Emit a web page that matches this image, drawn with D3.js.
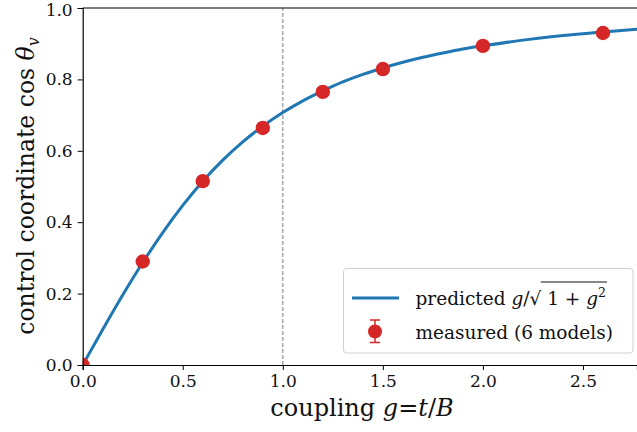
<!DOCTYPE html>
<html lang="en">
<head>
<meta charset="utf-8">
<title>cos theta_v vs coupling</title>
<script src="https://d3js.org/d3.v7.min.js"></script>
<style>
  body { margin: 0; background: #fff; }
</style>
</head>
<body>
<script>
  var w = 637, h = 432;
  var margin = {top: 8, right: 0, bottom: 67, left: 82.7};
  var serif = "'DejaVu Serif', 'Liberation Serif', serif";

  // measured points
  var gMeasured = [0, 0.3, 0.6, 0.9, 1.2, 1.5, 2.0, 2.6];
  var cosMeasured = [0, 0.290, 0.515, 0.664, 0.765, 0.829, 0.894, 0.930];

  // predicted curve
  var gCurve = [0, 0.1, 0.2, 0.3, 0.4, 0.5, 0.6, 0.7, 0.8, 0.9, 1.0, 1.1, 1.2, 1.3, 1.4,
                1.5, 1.6, 1.7, 1.8, 1.9, 2.0, 2.2, 2.4, 2.6, 2.8];
  var cosCurve = [0, 0.0995, 0.196, 0.287, 0.371, 0.447, 0.515, 0.574, 0.625, 0.669, 0.707,
                  0.740, 0.768, 0.793, 0.814, 0.832, 0.848, 0.862, 0.874, 0.885, 0.894,
                  0.910, 0.923, 0.933, 0.942];

  var xTicks = [0, 0.5, 1.0, 1.5, 2.0, 2.5];
  var yTicks = [0, 0.2, 0.4, 0.6, 0.8, 1.0];
  var vline = 1.0;

  var blue = "#1f77b4", red = "#d62728";

  var x = d3.scaleLinear().domain([0, 2.77]).range([margin.left, w - margin.right]);
  var y = d3.scaleLinear().domain([0, 1]).range([h - margin.bottom, margin.top]);

  var svg = d3.select("body").append("svg")
    .attr("width", w).attr("height", h)
    .style("font-family", serif);

  svg.append("defs").append("clipPath").attr("id", "clip")
    .append("rect")
    .attr("x", x(0)).attr("y", y(1))
    .attr("width", x(2.77) - x(0)).attr("height", y(0) - y(1));

  // dashed reference line
  svg.append("line")
    .attr("x1", x(vline)).attr("x2", x(vline))
    .attr("y1", y(0)).attr("y2", y(1))
    .attr("stroke", "#888").attr("stroke-width", 1.1)
    .attr("stroke-dasharray", "4,2");

  // predicted curve
  var line = d3.line()
    .x(function (d, i) { return x(gCurve[i]); })
    .y(function (d) { return y(d); })
    .curve(d3.curveMonotoneX);

  svg.append("path")
    .datum(cosCurve)
    .attr("clip-path", "url(#clip)")
    .attr("d", line)
    .attr("fill", "none")
    .attr("stroke", blue)
    .attr("stroke-width", 3);

  // measured markers
  svg.append("g")
    .attr("clip-path", "url(#clip)")
    .selectAll("circle")
    .data(cosMeasured)
    .enter().append("circle")
    .attr("cx", function (d, i) { return x(gMeasured[i]); })
    .attr("cy", function (d) { return y(d); })
    .attr("r", 7.2)
    .attr("fill", red);

  // axes
  var xAxis = d3.axisBottom(x).tickValues(xTicks).tickSize(5).tickPadding(5)
    .tickFormat(d3.format(".1f"));
  var yAxis = d3.axisLeft(y).tickValues(yTicks).tickSize(5).tickPadding(5)
    .tickFormat(d3.format(".1f"));

  var gx = svg.append("g").attr("transform", "translate(0," + y(0) + ")").call(xAxis);
  var gy = svg.append("g").attr("transform", "translate(" + x(0) + ",0)").call(yAxis);
  [gx, gy].forEach(function (g) {
    g.attr("font-family", null).attr("font-size", null);
    g.select(".domain").attr("stroke", "#000").attr("stroke-width", 1.2);
    g.selectAll(".tick line").attr("stroke", "#000").attr("stroke-width", 1);
    g.selectAll(".tick text").style("font-family", serif).style("font-size", "17px")
      .attr("fill", "#111");
  });
  // keep the top label inside the page
  gy.selectAll(".tick text").filter(function (d) { return d === 1; }).attr("dy", "0.42em");

  // top spine
  svg.append("line")
    .attr("x1", x(0)).attr("x2", w)
    .attr("y1", y(1)).attr("y2", y(1))
    .attr("stroke", "#000").attr("stroke-width", 1.2);

  // x label
  var xl = svg.append("text")
    .attr("x", 362).attr("y", 416)
    .attr("text-anchor", "middle")
    .style("font-size", "24px").attr("fill", "#111");
  xl.append("tspan").text("coupling ");
  xl.append("tspan").attr("font-style", "italic").text("g");
  xl.append("tspan").text("=");
  xl.append("tspan").attr("font-style", "italic").text("t");
  xl.append("tspan").text("/");
  xl.append("tspan").attr("font-style", "italic").text("B");

  // y label
  var yl = svg.append("text")
    .attr("transform", "translate(34," + 186 + ") rotate(-90)")
    .attr("text-anchor", "middle")
    .style("font-size", "23.5px").attr("fill", "#111");
  yl.append("tspan").text("control coordinate cos ");
  yl.append("tspan").attr("font-style", "italic").text("θ");
  yl.append("tspan").attr("font-style", "italic").style("font-size", "16px")
    .attr("dy", 5).text("v");

  // legend
  var lg = svg.append("g");
  lg.append("rect")
    .attr("x", 343.5).attr("y", 268.5)
    .attr("width", 289.5).attr("height", 84.5)
    .attr("rx", 3).attr("ry", 3)
    .attr("fill", "#fff").attr("fill-opacity", 0.8)
    .attr("stroke", "#d0d0d0").attr("stroke-width", 1);

  lg.append("line")
    .attr("x1", 352).attr("x2", 399).attr("y1", 298).attr("y2", 298)
    .attr("stroke", blue).attr("stroke-width", 3);

  lg.append("line")
    .attr("x1", 375).attr("x2", 375).attr("y1", 320).attr("y2", 342.5)
    .attr("stroke", red).attr("stroke-width", 1.5);
  [320, 342.5].forEach(function (yy) {
    lg.append("line")
      .attr("x1", 370).attr("x2", 380).attr("y1", yy).attr("y2", yy)
      .attr("stroke", red).attr("stroke-width", 1.5);
  });
  lg.append("circle").attr("cx", 375).attr("cy", 331.5).attr("r", 7).attr("fill", red);

  var t1 = lg.append("text").attr("x", 415.5).attr("y", 305)
    .style("font-size", "18.5px").attr("fill", "#111");
  t1.append("tspan").text("predicted ");
  t1.append("tspan").attr("font-style", "italic").text("g");
  t1.append("tspan").text("/√");
  t1.append("tspan").text(" 1 + ");
  t1.append("tspan").attr("font-style", "italic").text("g");
  t1.append("tspan").style("font-size", "12.5px").attr("dy", -8).text("2");

  lg.append("text").attr("x", 415.5).attr("y", 339)
    .style("font-size", "18.5px").attr("fill", "#111")
    .text("measured (6 models)");

  // overline for the radical
  var t1Node = t1.node();
  var rootIdx = t1Node.textContent.indexOf("√");
  var rootEnd = t1Node.getEndPositionOfChar(rootIdx);
  var endBox = t1Node.getBBox();
  lg.append("line")
    .attr("x1", rootEnd.x - 0.5).attr("x2", endBox.x + endBox.width + 1)
    .attr("y1", 282).attr("y2", 282)
    .attr("stroke", "#111").attr("stroke-width", 1.2);
</script>
</body>
</html>
